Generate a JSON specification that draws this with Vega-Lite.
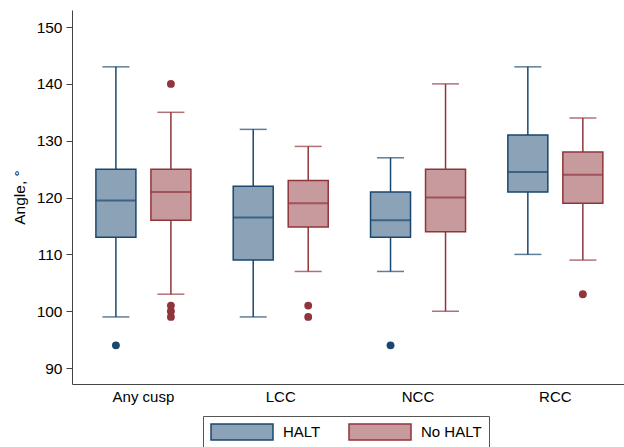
{
  "$schema": "https://vega.github.io/schema/vega-lite/v6.json",
  "width": 552,
  "height": 374,
  "autosize": "none",
  "padding": {"left": 72, "top": 10, "right": 0, "bottom": 63},
  "background": "white",
  "datasets": {
    "boxes": [
      {"cusp": "Any cusp", "group": "HALT", "lo": 99, "q1": 113, "med": 119.5, "q3": 125, "hi": 143},
      {"cusp": "Any cusp", "group": "No HALT", "lo": 103, "q1": 116, "med": 121, "q3": 125, "hi": 135},
      {"cusp": "LCC", "group": "HALT", "lo": 99, "q1": 109, "med": 116.5, "q3": 122, "hi": 132},
      {"cusp": "LCC", "group": "No HALT", "lo": 107, "q1": 114.8, "med": 119, "q3": 123, "hi": 129},
      {"cusp": "NCC", "group": "HALT", "lo": 107, "q1": 113, "med": 116, "q3": 121, "hi": 127},
      {"cusp": "NCC", "group": "No HALT", "lo": 100, "q1": 114, "med": 120, "q3": 125, "hi": 140},
      {"cusp": "RCC", "group": "HALT", "lo": 110, "q1": 121, "med": 124.5, "q3": 131, "hi": 143},
      {"cusp": "RCC", "group": "No HALT", "lo": 109, "q1": 119, "med": 124, "q3": 128, "hi": 134}
    ],
    "outliers": [
      {"cusp": "Any cusp", "group": "HALT", "value": 94},
      {"cusp": "Any cusp", "group": "No HALT", "value": 140},
      {"cusp": "Any cusp", "group": "No HALT", "value": 101},
      {"cusp": "Any cusp", "group": "No HALT", "value": 100},
      {"cusp": "Any cusp", "group": "No HALT", "value": 99},
      {"cusp": "LCC", "group": "No HALT", "value": 101},
      {"cusp": "LCC", "group": "No HALT", "value": 99},
      {"cusp": "NCC", "group": "HALT", "value": 94},
      {"cusp": "RCC", "group": "No HALT", "value": 103}
    ]
  },
  "encoding": {
    "x": {
      "field": "cusp", "type": "nominal",
      "scale": {"domain": ["Any cusp", "LCC", "NCC", "RCC"], "paddingInner": 0, "paddingOuter": 0.01, "align": 1},
      "axis": {"title": null, "ticks": false, "labelAngle": 0, "labelFontSize": 15, "labelPadding": 5, "labelColor": "black", "domainColor": "#444", "domainWidth": 1}
    },
    "xOffset": {
      "field": "group", "type": "nominal",
      "scale": {"domain": ["HALT", "No HALT"], "paddingInner": 0.2727, "paddingOuter": 0.3846}
    }
  },
  "layer": [
    {
      "data": {"name": "boxes"},
      "mark": {"type": "bar", "strokeWidth": 1.5},
      "encoding": {
        "y": {
          "field": "q1", "type": "quantitative",
          "scale": {"domain": [87.2, 153], "nice": false, "zero": false},
          "axis": {"title": "Angle, °", "values": [90, 100, 110, 120, 130, 140, 150], "grid": false, "tickSize": 6, "tickColor": "#444", "domainColor": "#444", "labelFontSize": 15.5, "labelPadding": 4, "labelColor": "black", "titleFontSize": 15.5, "titleFontWeight": "normal", "titleColor": "black", "titlePadding": 9}
        },
        "y2": {"field": "q3"},
        "fill": {
          "field": "group", "type": "nominal",
          "scale": {"domain": ["HALT", "No HALT"], "range": ["#8ca3b7", "#c79a9d"]},
          "legend": {"title": null}
        },
        "stroke": {
          "field": "group", "type": "nominal",
          "scale": {"domain": ["HALT", "No HALT"], "range": ["#1a476f", "#90353b"]},
          "legend": {"title": null}
        }
      }
    },
    {
      "data": {"name": "boxes"},
      "mark": {"type": "rule", "strokeWidth": 1.5},
      "encoding": {
        "y": {"field": "lo", "type": "quantitative"},
        "y2": {"field": "q1"},
        "color": {"field": "group", "type": "nominal", "scale": {"domain": ["HALT", "No HALT"], "range": ["#1a476f", "#90353b"]}, "legend": null}
      }
    },
    {
      "data": {"name": "boxes"},
      "mark": {"type": "rule", "strokeWidth": 1.5},
      "encoding": {
        "y": {"field": "q3", "type": "quantitative"},
        "y2": {"field": "hi"},
        "color": {"field": "group", "type": "nominal", "legend": null}
      }
    },
    {
      "data": {"name": "boxes"},
      "mark": {"type": "tick", "thickness": 1.5, "size": 27, "orient": "horizontal"},
      "encoding": {
        "y": {"field": "lo", "type": "quantitative"},
        "color": {"field": "group", "type": "nominal", "legend": null}
      }
    },
    {
      "data": {"name": "boxes"},
      "mark": {"type": "tick", "thickness": 1.5, "size": 27, "orient": "horizontal"},
      "encoding": {
        "y": {"field": "hi", "type": "quantitative"},
        "color": {"field": "group", "type": "nominal", "legend": null}
      }
    },
    {
      "data": {"name": "boxes"},
      "mark": {"type": "tick", "thickness": 2, "size": 40, "orient": "horizontal"},
      "encoding": {
        "y": {"field": "med", "type": "quantitative"},
        "color": {"field": "group", "type": "nominal", "legend": null}
      }
    },
    {
      "data": {"name": "outliers"},
      "mark": {"type": "circle", "size": 62, "opacity": 1},
      "encoding": {
        "y": {"field": "value", "type": "quantitative"},
        "color": {"field": "group", "type": "nominal", "legend": null}
      }
    }
  ],
  "config": {
    "font": "Liberation Sans",
    "view": {"stroke": null},
    "legend": {
      "orient": "none",
      "legendX": 131,
      "legendY": 406,
      "direction": "horizontal",
      "strokeColor": "#555",
      "fillColor": "white",
      "padding": 7,
      "symbolType": "M-3.875,-1L3.875,-1L3.875,1L-3.875,1Z",
      "symbolSize": 256,
      "symbolOffset": 23,
      "symbolStrokeWidth": 1.5,
      "symbolOpacity": 1,
      "labelFontSize": 15,
      "labelColor": "black",
      "labelOffset": 32,
      "columnPadding": 25
    }
  }
}
